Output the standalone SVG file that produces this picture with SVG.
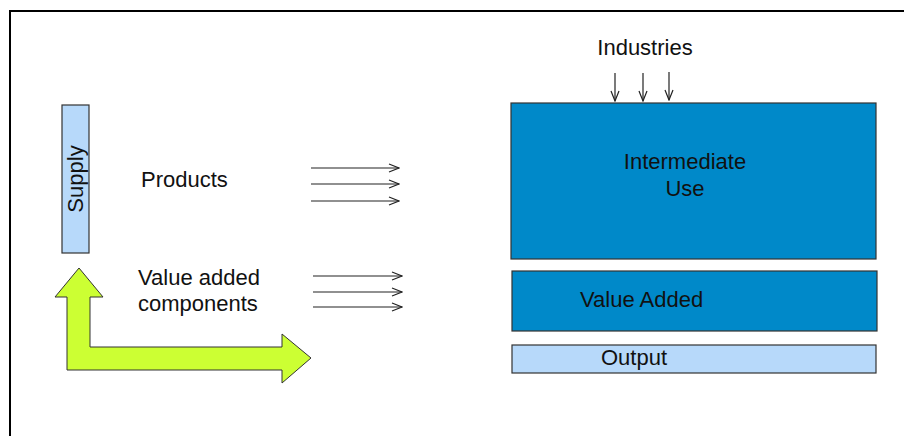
<svg xmlns="http://www.w3.org/2000/svg" width="904" height="436" viewBox="0 0 904 436">
<defs>
<style>
text{font-family:"Liberation Sans",Arial,sans-serif;font-size:22px;fill:#111}
.thin{stroke:#222;stroke-width:1.2;fill:none}
.box{stroke:#333;stroke-width:1.2}
</style>
<marker id="open" markerWidth="12" markerHeight="10" refX="11" refY="5" orient="auto" markerUnits="userSpaceOnUse">
<path d="M1,1 L11,5 L1,9" fill="none" stroke="#222" stroke-width="1.2"/>
</marker>
</defs>
<rect width="904" height="436" fill="#fff"/>
<path d="M10,436 V11 H904" fill="none" stroke="#000" stroke-width="2"/>
<g id="supply">
<rect x="62" y="105" width="27" height="148" fill="#b7d9fa" class="box"/>
<text transform="translate(83,179) rotate(-90)" text-anchor="middle">Supply</text>
</g>
<g id="green-arrow">
<path d="M79,268 L103,297 L90,297 L90,347 L282,347 L282,334 L311,358 L282,383 L282,370 L67,370 L67,297 L55,297 Z" fill="#ccff33" stroke="#333" stroke-width="1"/>
</g>
<g id="products"><text x="141" y="187">Products</text></g>
<g id="vac"><text x="138" y="285">Value added</text><text x="138" y="311">components</text></g>
<g id="industries"><text x="645" y="55" text-anchor="middle">Industries</text></g>
<g id="intermediate">
<rect x="511" y="103" width="365" height="156" fill="#0089c9" class="box"/>
<text x="685" y="169" text-anchor="middle">Intermediate</text>
<text x="685" y="196" text-anchor="middle">Use</text>
</g>
<g id="valueadded">
<rect x="512" y="271" width="365" height="60" fill="#0089c9" class="box"/>
<text x="580" y="307">Value Added</text>
</g>
<g id="output">
<rect x="512" y="345" width="364" height="28" fill="#b7d9fa" class="box"/>
<text x="601" y="365">Output</text>
</g>
<g id="connectors">
<line x1="311" y1="168" x2="399" y2="168" class="thin" marker-end="url(#open)"/>
<line x1="311" y1="184" x2="399" y2="184" class="thin" marker-end="url(#open)"/>
<line x1="311" y1="201" x2="399" y2="201" class="thin" marker-end="url(#open)"/>
<line x1="313" y1="276" x2="402" y2="276" class="thin" marker-end="url(#open)"/>
<line x1="313" y1="292" x2="402" y2="292" class="thin" marker-end="url(#open)"/>
<line x1="313" y1="307" x2="402" y2="307" class="thin" marker-end="url(#open)"/>
<line x1="615" y1="73" x2="615" y2="101" class="thin" marker-end="url(#open)"/>
<line x1="643" y1="73" x2="643" y2="101" class="thin" marker-end="url(#open)"/>
<line x1="669" y1="72" x2="669" y2="100" class="thin" marker-end="url(#open)"/>
</g>
</svg>
